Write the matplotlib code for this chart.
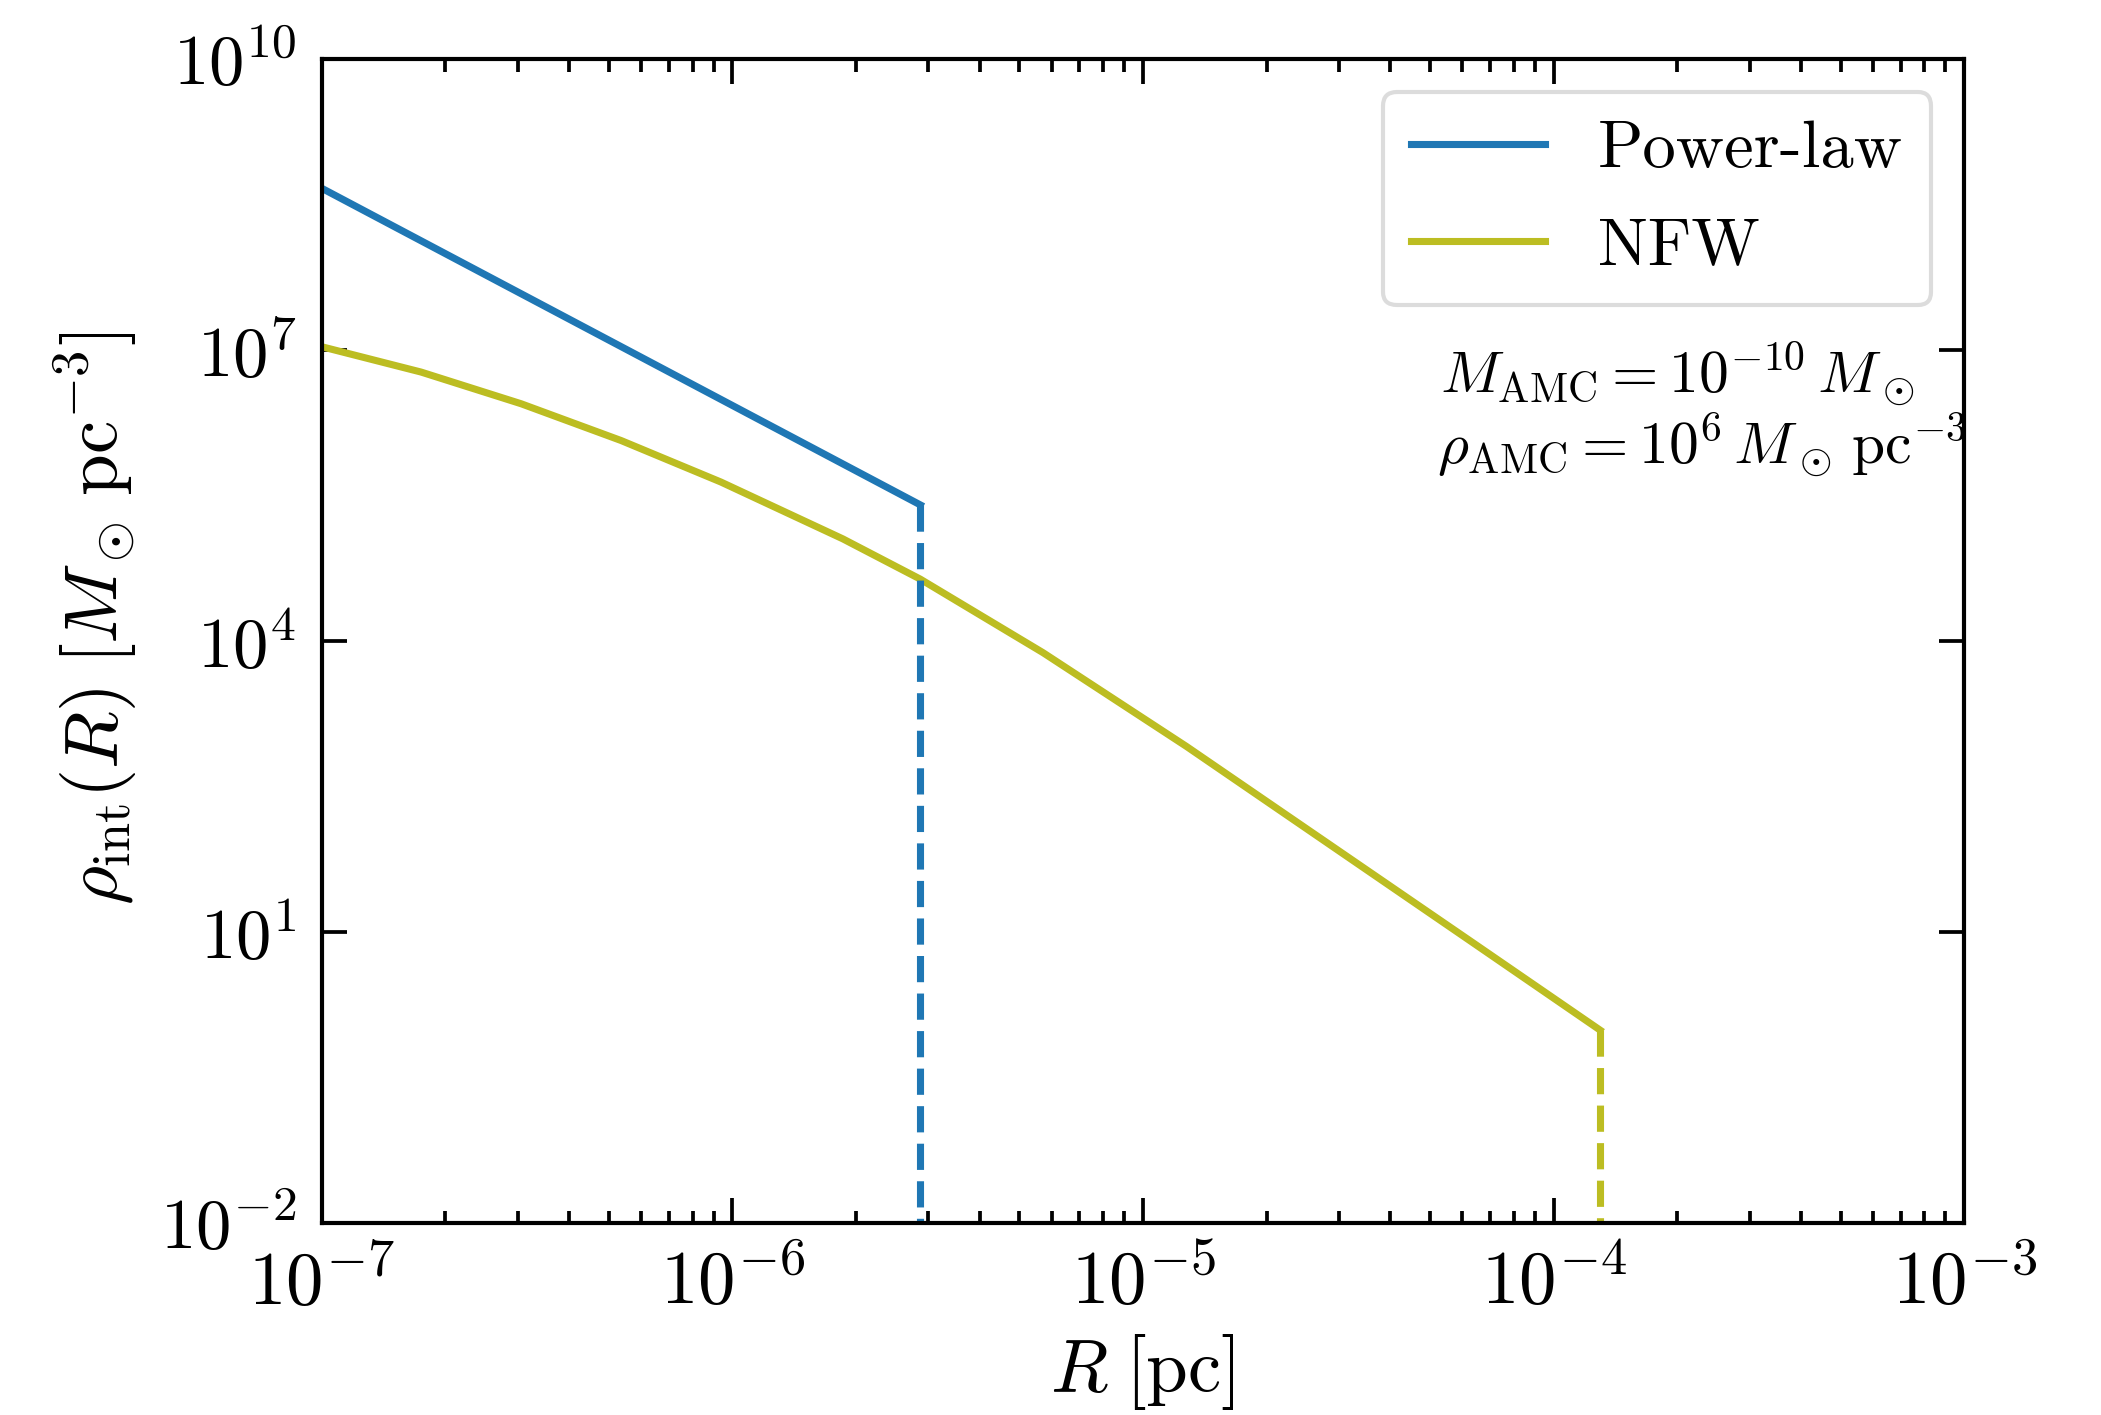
import numpy as np
import matplotlib
matplotlib.use("Agg")
import matplotlib.pyplot as plt
from matplotlib.ticker import LogLocator, FuncFormatter, NullFormatter, NullLocator

plt.rcParams['font.family'] = 'serif'
plt.rcParams['font.serif'] = ['cmr10', 'DejaVu Serif']
plt.rcParams['mathtext.fontset'] = 'cm'
plt.rcParams['axes.unicode_minus'] = False

# ---- data ----
R_pl = [1.0e-7, 2.87e-6]
rho_pl = [4.66e8, 2.54e5]

R_nfw = [1.0e-7, 1.746e-7, 3.06e-7, 5.36e-7, 9.38e-7, 1.858e-6, 2.87e-6,
         5.71e-6, 1.276e-5, 2.85e-5, 6.37e-5, 1.297e-4]
rho_nfw = [1.084e7, 5.94e6, 2.80e6, 1.17e6, 4.37e5, 1.135e5, 4.36e4,
           7.62e3, 824.0, 80.2, 7.78, 0.984]

labels = ["Power-law", "NFW"]
colors = ["#1f77b4", "#bcbd22"]

xlim = (1e-7, 1e-3)
ylim = (1e-2, 1e10)
yticks = [1e-2, 1e1, 1e4, 1e7, 1e10]

fig = plt.figure(figsize=(2101/300, 1415/300), dpi=300)
ax = fig.add_axes([0.1531, 0.1354, 0.9349-0.1531, 0.9583-0.1354])

lw = 1.7
ax.plot(R_pl, rho_pl, color=colors[0], lw=lw, label=labels[0])
ax.plot(R_nfw, rho_nfw, color=colors[1], lw=lw, label=labels[1])
ax.plot([R_pl[-1], R_pl[-1]], [rho_pl[-1], ylim[0]], ls='--', color=colors[0], lw=lw)
ax.plot([R_nfw[-1], R_nfw[-1]], [rho_nfw[-1], ylim[0]], ls='--', color=colors[1], lw=lw)

ax.set_xscale('log')
ax.set_yscale('log')
ax.set_xlim(*xlim)
ax.set_ylim(*ylim)

def fmt(v, pos):
    e = int(round(np.log10(v)))
    return r'$10^{%d}$' % e

ax.xaxis.set_major_locator(LogLocator(base=10, numticks=20))
ax.xaxis.set_minor_locator(LogLocator(base=10, subs=np.arange(2, 10), numticks=20))
ax.xaxis.set_major_formatter(FuncFormatter(fmt))
ax.xaxis.set_minor_formatter(NullFormatter())
ax.set_yticks(yticks)
ax.yaxis.set_minor_locator(NullLocator())
ax.yaxis.set_major_formatter(FuncFormatter(fmt))

ax.tick_params(which='both', direction='in', top=True, right=True, width=0.9)
ax.tick_params(which='major', length=6)
ax.tick_params(which='minor', length=3)
ax.tick_params(axis='x', labelsize=18, pad=6)
ax.tick_params(axis='y', labelsize=17, pad=6)
for s in ax.spines.values():
    s.set_linewidth(1.0)

ax.set_xlabel(r'$R\;[\mathrm{pc}]$', fontsize=18, labelpad=3)
ax.set_ylabel(r'$\rho_\mathrm{int}(R)\;[M_\odot\,\mathrm{pc}^{-3}]$', fontsize=18, labelpad=5)
ax.yaxis.label.set_y(0.52)

leg = ax.legend(loc='upper right', fontsize=16, frameon=True, fancybox=True,
                edgecolor='#d4d4d4', borderpad=0.42, labelspacing=0.56,
                handlelength=2.0)

ax.text(0.681, 0.713, r'$M_\mathrm{AMC} = 10^{-10}\,M_\odot$', transform=ax.transAxes,
        fontsize=14.3, ha='left', va='baseline')
ax.text(0.679, 0.652, r'$\rho_\mathrm{AMC} = 10^{6}\,M_\odot\,\mathrm{pc}^{-3}$', transform=ax.transAxes,
        fontsize=14.3, ha='left', va='baseline')

fig.savefig('out.png', dpi=300)
